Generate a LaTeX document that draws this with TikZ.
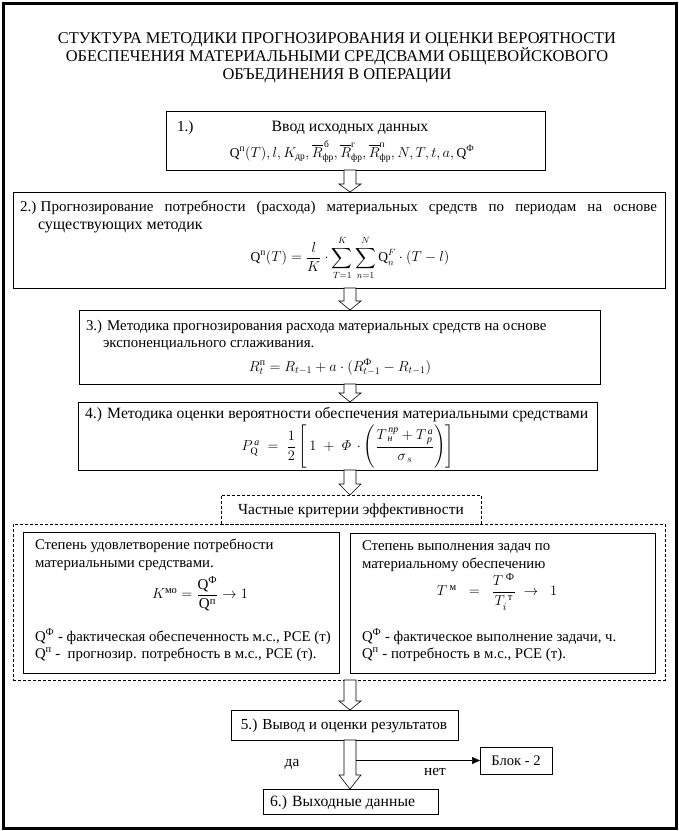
\documentclass[tikz,border=0pt]{standalone}
\usepackage{amsmath}
\usepackage{fontspec}
\setmainfont{Liberation Serif}
\usetikzlibrary{calc,arrows.meta}
\newcommand\blockarr[3]{%
  \draw[barrow] let \p1=(#1.south), \p2=(#2.north) in
  (344pt,\y1) -- (356pt,\y1) -- (356pt,\y2+#3pt) -- (361pt,\y2+#3pt) -- (350pt,\y2)
  -- (339pt,\y2+#3pt) -- (344pt,\y2+#3pt) -- cycle;}
\begin{document}
\begin{tikzpicture}[x=1pt,y=-1pt,
  font=\fontsize{15.3}{18}\selectfont,
  fs/.style={font=\fontsize{#1}{18}\selectfont},
  box/.style={draw,line width=0.8pt,inner sep=0pt,outer sep=0pt},
  dbox/.style={draw,line width=0.7pt,dash pattern=on 3pt off 2pt,inner sep=0pt,outer sep=0pt},
  txt/.style={inner sep=0pt,outer sep=0pt},
  tw/.style={txt,anchor=base west},
  tc/.style={txt,anchor=base},
  barrow/.style={draw,line width=0.6pt,fill=white}]
\useasboundingbox (0,0) rectangle (679,831);
\draw[line width=3pt] (3,3) rectangle (676,828);
% title
\node[tc,fs=16.4] (t1) at (337,43) {СТУКТУРА МЕТОДИКИ ПРОГНОЗИРОВАНИЯ И ОЦЕНКИ ВЕРОЯТНОСТИ};
\node[tc,fs=16.4] (t2) at (337,61) {ОБЕСПЕЧЕНИЯ МАТЕРИАЛЬНЫМИ СРЕДСВАМИ ОБЩЕВОЙСКОВОГО};
\node[tc,fs=16.4] (t3) at (337,79) {ОБЪЕДИНЕНИЯ В ОПЕРАЦИИ};
% boxes
\node[box,minimum width=379pt,minimum height=59pt] (b1) at (355.5,140.5) {};
\node[box,minimum width=652pt,minimum height=96pt] (b2) at (339,240) {};
\node[box,minimum width=521pt,minimum height=74pt] (b3) at (339.5,347) {};
\node[box,minimum width=519pt,minimum height=68pt] (b4) at (337.5,436) {};
\node[dbox,minimum width=652pt,minimum height=156pt] (big) at (339,602) {};
\node[dbox,minimum width=260pt,minimum height=29pt] (hd) at (351,509.5) {};
\node[box,minimum width=316pt,minimum height=141pt] (lb) at (181,602.5) {};
\node[box,minimum width=305pt,minimum height=140pt] (rb) at (502.5,603) {};
\node[box,minimum width=227pt,minimum height=30pt] (b5) at (344.5,725) {};
\node[box,minimum width=175pt,minimum height=25pt] (b6) at (350.5,801.5) {};
\node[box,minimum width=72pt,minimum height=27pt] (blk) at (516,760.5) {};
% box 1
\node[tw] (b1n) at (177,131) {1.)};
\node[tc,fs=15.8] (b1t) at (350,131) {Ввод исходных данных};
\node[tc,fs=13.5] (b1f) at (352,157) {$\mathrm{Q}^{\text{п}}(T), l, K_{\text{др}}, \overline{R}^{\,\text{б}}_{\text{фр}}, \overline{R}^{\text{г}}_{\text{фр}}, \overline{R}^{\text{п}}_{\text{фр}}, N, T, t, a, \mathrm{Q}^{\text{Ф}}$};
% box 2
\node[tw,fs=15] (b2a) at (20,211) {\makebox[637pt][s]{2.)\hspace{0.3em}Прогнозирование потребности (расхода) материальных средств по периодам на основе}};
\node[tw,fs=16] (b2b) at (38,229) {существующих методик};
\node[txt,fs=13.5] (b2f) at (350,258) {$\displaystyle\mathrm{Q}^{\text{п}}(T) = \frac{l}{K}\cdot\sum_{T=1}^{K}\sum_{n=1}^{N}\mathrm{Q}_{n}^{F}\cdot(T-l)$};
% box 3
\node[tw,fs=14.9] (b3a) at (86,330) {3.) Методика прогнозирования расхода материальных средств на основе};
\node[tw,fs=14.9] (b3b) at (103,347) {экспоненциального сглаживания.};
\node[tc,fs=14] (b3f) at (340,371) {$R_{t}^{\text{п}} = R_{t-1} + a\cdot(R_{t-1}^{\text{Ф}} - R_{t-1})$};
% box 4
\node[tw,fs=15.7] (b4a) at (85,418) {4.) Методика оценки вероятности обеспечения материальными средствами};
\node[txt,fs=14] (b4f) at (348,447) {$P^{\,\text{\itshape а}}_{\mathrm{Q}} \;=\; \dfrac{1}{2}\left[\,1 \;+\; \varPhi\,\cdot\left(\dfrac{T^{\,\text{\itshape пр}}_{\;\text{\itshape н}}+T^{\,\text{\itshape а}}_{\;\text{\itshape р}}}{\sigma_{\,s}}\right)\right]$};
% criteria
\node[tc,fs=15.4] (hdt) at (351,514) {Частные критерии эффективности};
\node[tw,fs=14.8] (la) at (35,549) {Степень удовлетворение потребности};
\node[tw,fs=14.8] (lb2) at (35,567) {материальными средствами.};
\node[txt,fs=15] (lf) at (200,594) {$K^{\text{мо}} = \dfrac{\mathrm{Q}^{\text{Ф}}}{\mathrm{Q}^{\text{п}}} \to 1$};
\node[tw,fs=14.8] (lc) at (35,641) {$\mathrm{Q}^{\text{Ф}}$ - фактическая обеспеченность м.с., РСЕ (т)};
\node[tw,fs=14.8] (ld) at (35,658) {$\mathrm{Q}^{\text{п}}$ -\ \ прогнозир. потребность в м.с., РСЕ (т).};
\node[tw,fs=14.8] (ra) at (362,550) {Степень выполнения задач по};
\node[tw,fs=14.8] (rb2) at (362,568) {материальному обеспечению};
\node[txt,fs=15] (rf) at (497,592) {$T^{\text{ м}} \;\;=\;\; \dfrac{T^{\text{ Ф}}}{T_{i}^{\;\text{т}}} \;\to\;\; 1$};
\node[tw,fs=14.8] (rc) at (362,641) {$\mathrm{Q}^{\text{Ф}}$ - фактическое выполнение задачи, ч.};
\node[tw,fs=14.8] (rd) at (362,658) {$\mathrm{Q}^{\text{п}}$ - потребность в м.с., РСЕ (т).};
% bottom
\node[tc] (b5t) at (344,729) {5.) Вывод и оценки результатов};
\node[tw,fs=15.7] (b6t) at (270,806) {6.) Выходные данные};
\node[tc,fs=14.6] (blkt) at (516,765) {Блок - 2};
\node[tc] (yes) at (292,766) {да};
\node[tc] (no) at (435,775) {нет};
% block arrows
\blockarr{b1}{b2}{8}
\blockarr{b2}{b3}{9}
\blockarr{b3}{b4}{9}
\blockarr{b4}{hd}{11}
\blockarr{big}{b5}{9}
\blockarr{b5}{b6}{14}
\coordinate (fork) at (356,760.5);
\draw[line width=0.6pt,-{Triangle[length=8pt,width=7pt]}] (fork) -- (blk.west);
\end{tikzpicture}
\end{document}
